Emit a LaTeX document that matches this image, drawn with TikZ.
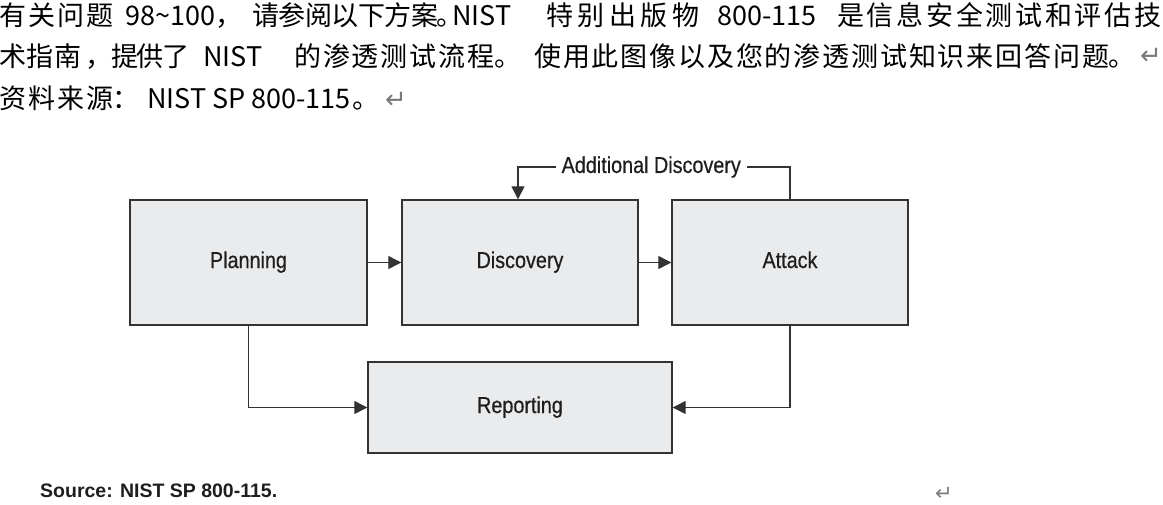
\documentclass[tikz,border=0pt]{standalone}
\usepackage{fontspec}
\usetikzlibrary{arrows.meta}
\newfontfamily\cjk{Noto Sans CJK SC}
\newfontfamily\diagfont[FakeStretch=0.86,FakeBold=0.5]{Liberation Sans}
\newfontfamily\srcfont{Liberation Sans}
\newfontfamily\symfont{DejaVu Sans}
\newcommand\gx{\hskip 0pt plus 1fil minus 1fil}
\definecolor{boxfill}{HTML}{EAEBED}
\definecolor{boxline}{HTML}{333333}
\definecolor{txt}{HTML}{1E1E1E}
\definecolor{markgray}{HTML}{7A7A7A}
\begin{document}
\begin{tikzpicture}[x=1pt,y=-1pt,
  hdr/.style={anchor=base west, inner sep=0pt, font=\cjk\fontsize{27}{27}\selectfont, text=black},
  retmark/.style={inner sep=0pt, font=\symfont\fontsize{26}{26}\selectfont, text=markgray},
  box/.style={draw=boxline, fill=boxfill, line width=1.4pt, inner sep=0pt,
    font=\diagfont\fontsize{23}{23}\selectfont, text=txt, text height=16pt, text depth=5pt},
  bigbox/.style={box, minimum width=236pt, minimum height=125pt},
  arr/.style={draw=boxline, line width=1.3pt, -{Triangle[length=13pt,width=13pt]}},
  lab/.style={fill=white, inner xsep=6pt, inner ysep=2pt, text=txt,
    font=\diagfont\fontsize{23}{23}\selectfont}
]
\useasboundingbox (0,0) rectangle (1163,504);

% header line 1
\node[hdr] (h1a) at (-1,25) {\hbox to 114pt{有\gx 关\gx 问\gx 题}};
\node[hdr] (h1b) at (125,25) {98\char"007E 100，};
\node[hdr] (h1c) at (252,25) {\hbox to 186pt{请\gx 参\gx 阅\gx 以\gx 下\gx 方\gx 案}};
\node[hdr] (h1d) at (436,25) {。};
\node[hdr] (h1e) at (452,25) {NIST};
\node[hdr] (h1f) at (546,25) {\hbox to 153pt{特\gx 别\gx 出\gx 版\gx 物}};
\node[hdr] (h1g) at (717,25) {800-115};
\node[hdr] (h1h) at (837,25) {\hbox to 324pt{是\gx 信\gx 息\gx 安\gx 全\gx 测\gx 试\gx 和\gx 评\gx 估\gx 技}};

% header line 2
\node[hdr] (h2a) at (-1,66) {\hbox to 82pt{术\gx 指\gx 南}};
\node[hdr] (h2b) at (85,66) {，};
\node[hdr] (h2c) at (111,66) {\hbox to 78pt{提\gx 供\gx 了}};
\node[hdr] (h2d) at (203,66) {NIST};
\node[hdr] (h2e) at (294,66) {\hbox to 200pt{的\gx 渗\gx 透\gx 测\gx 试\gx 流\gx 程}};
\node[hdr] (h2f) at (494,66) {。};
\node[hdr] (h2g) at (534,66) {\hbox to 575pt{使\gx 用\gx 此\gx 图\gx 像\gx 以\gx 及\gx 您\gx 的\gx 渗\gx 透\gx 测\gx 试\gx 知\gx 识\gx 来\gx 回\gx 答\gx 问\gx 题}};
\node[hdr] (h2h) at (1108,66) {。};
\node[retmark] (h2i) at (1151,56) {↵};

% header line 3
\node[hdr] (h3a) at (-1,108) {\hbox to 114pt{资\gx 料\gx 来\gx 源}};
\node[hdr] (h3b) at (112,108) {：};
\node[hdr] (h3c) at (147,108) {NIST SP 800-115};
\node[hdr] (h3d) at (352,108) {。};
\node[retmark] (h3e) at (396,100) {↵};

% diagram
\node[bigbox, minimum width=237pt] (plan) at (248.5,262.5) {Planning};
\node[bigbox] (disc) at (520,262.5) {Discovery};
\node[bigbox] (att) at (790,262.5) {Attack};
\node[box, minimum width=304pt, minimum height=91pt] (rep) at (520,407.5) {Reporting};

\coordinate (loop) at (518,167);
\draw[arr] (plan) -- (disc);
\draw[arr] (disc) -- (att);
\draw[arr] (plan.south) |- (rep.west);
\draw[arr] (att.south) |- (rep.east);
\draw[arr] (att.north) |- node[lab, pos=0.755] (addl) {Additional Discovery} (loop) -- (loop |- disc.north);

% source
\node[anchor=base west, inner sep=0pt, font=\srcfont\bfseries\fontsize{19.5}{19.5}\selectfont, text=txt] (src) at (40,497) {Source: NIST SP 800-115.};
\node[retmark, font=\symfont\fontsize{21}{21}\selectfont] (endmark) at (944,494) {↵};
\end{tikzpicture}
\end{document}
